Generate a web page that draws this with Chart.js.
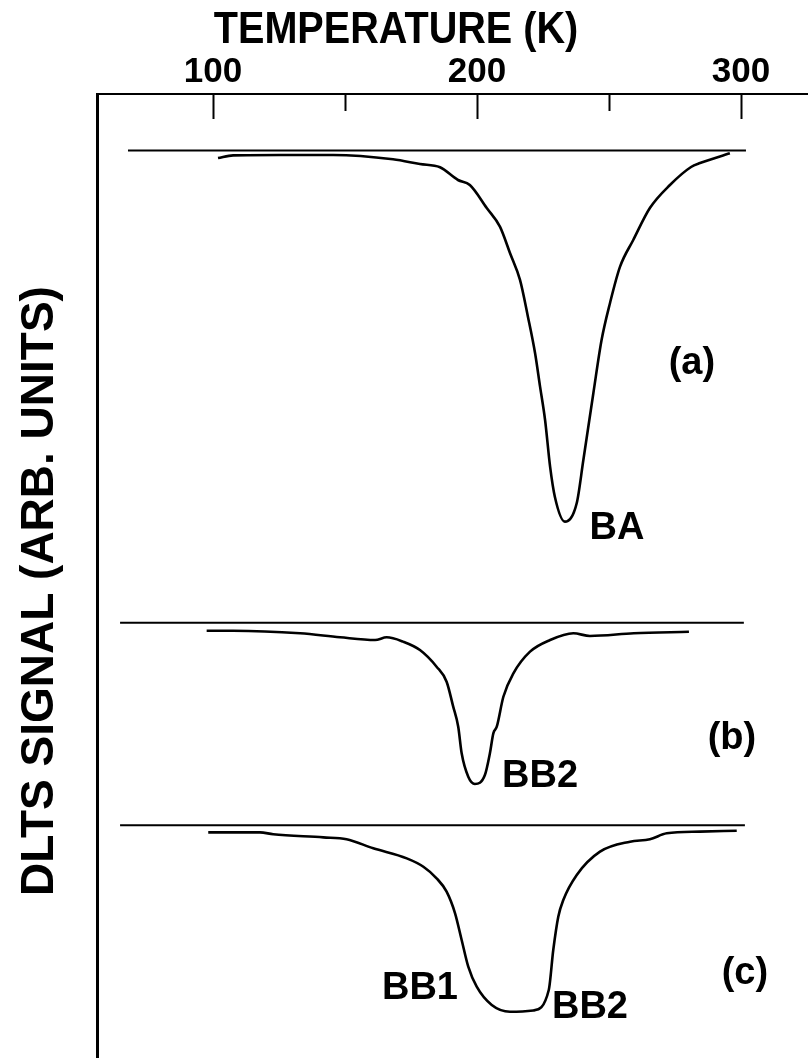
<!DOCTYPE html>
<html>
<head>
<meta charset="utf-8">
<title>DLTS spectra</title>
<script src="https://cdn.jsdelivr.net/npm/chart.js@4.4.1/dist/chart.umd.min.js"></script>
<style>
  html, body { margin: 0; padding: 0; background: #fff; }
</style>
</head>
<body>
<canvas id="dlts" width="808" height="1059"></canvas>
<script>
// temperature (K) and DLTS signal (arb. units, offset per spectrum)
const tempA = [101.9, 107.6, 125.4, 145.5, 168.2, 178.4, 186.0, 192.8, 197.3, 203.7, 208.7, 212.5, 216.3, 219.3, 222.0, 223.9,
  225.8, 227.7, 229.5, 233.3, 237.8, 240.3, 244.1, 247.2, 250.4, 254.2, 259.2, 265.5, 273.1, 281.1, 284.5, 295.8];
const sigA = [93.35, 93.63, 93.67, 93.67, 93.22, 92.73, 92.39, 91.07, 90.55, 88.16, 86.22, 83.49, 80.69, 76.88, 73.10, 69.61,
  66.15, 61.30, 58.18, 55.59, 57.53, 61.99, 68.95, 74.45, 78.30, 82.07, 84.84, 88.16, 90.55, 92.42, 92.83, 93.84];

const tempB = [97.6, 107.6, 133.0, 148.1, 161.4, 165.8, 172.0, 178.4, 184.7, 188.5, 191.0, 192.9, 194.2, 196.7, 199.2,
  203.0, 204.9, 206.2, 207.5, 210.0, 213.8, 220.1, 227.7, 236.5, 242.8, 259.4, 280.3];
const sigB = [44.27, 44.27, 44.0, 43.58, 43.30, 43.58, 43.13, 42.26, 40.53, 38.97, 36.38, 34.30, 31.54, 29.11, 28.35,
  29.28, 31.54, 33.61, 34.30, 37.41, 39.84, 42.09, 43.30, 44.0, 43.72, 44.0, 44.16];

const tempC = [98.2, 117.8, 122.8, 141.8, 150.6, 160.7, 173.4, 179.7, 184.7, 188.5, 191.7, 194.2, 196.7, 199.9, 205.6,
  212.5, 221.3, 227.2, 228.9, 230.8, 232.7, 237.8, 246.6, 258.0, 265.5, 271.9, 284.5, 298.4];
const sigC = [23.33, 23.33, 23.13, 22.81, 22.61, 21.67, 20.63, 19.76, 18.56, 17.17, 14.92, 12.15, 9.38, 7.30, 5.40,
  4.70, 4.83, 6.96, 11.11, 14.57, 16.30, 18.90, 21.32, 22.36, 22.61, 23.23, 23.40, 23.50];

// zero-signal reference lines for (a), (b), (c)
const baseStart = [67.8, 64.8, 64.8];
const baseEnd = [301.9, 301.1, 301.5];
const baseLevel = [94.13, 45.10, 24.06];

const tickValues = [100, 150, 200, 250, 300];
const xTitle = "TEMPERATURE (K)";
const yTitle = "DLTS SIGNAL (ARB. UNITS)";

const peakLabels = ["(a)", "BA", "(b)", "BB2", "BB1", "BB2", "(c)"];
const labelT = [281.4, 253.0, 296.6, 223.9, 178.4, 242.8, 301.5];
const labelV = [72.0, 54.9, 33.1, 29.1, 7.06, 5.19, 8.72];

const FONT = "'Liberation Sans', Arial, Helvetica, sans-serif";

const curve = (T, V) => T.map((t, i) => ({ x: t, y: V[i] }));

const lineStyle = {
  borderColor: "#000",
  borderWidth: 2.6,
  pointRadius: 0,
  fill: false,
  cubicInterpolationMode: "monotone",
};

const datasets = [
  { ...lineStyle, data: curve(tempA, sigA) },
  { ...lineStyle, data: curve(tempB, sigB) },
  { ...lineStyle, data: curve(tempC, sigC) },
];
baseLevel.forEach((lvl, i) => {
  datasets.push({
    ...lineStyle,
    borderWidth: 2,
    data: [{ x: baseStart[i], y: lvl }, { x: baseEnd[i], y: lvl }],
  });
});

// inward tick marks, the axis titles and the peak names
const decorations = {
  id: "decorations",
  afterDraw(chart) {
    const { ctx, chartArea } = chart;
    const x = chart.scales.x;
    const y = chart.scales.y;
    ctx.save();
    ctx.strokeStyle = "#000";
    ctx.lineWidth = 2;
    x.ticks.forEach((t) => {
      const px = Math.round(x.getPixelForValue(t.value)) + 0.5;
      const len = t.value % 100 === 0 ? 25 : 17;
      ctx.beginPath();
      ctx.moveTo(px, chartArea.top);
      ctx.lineTo(px, chartArea.top + len);
      ctx.stroke();
    });

    ctx.fillStyle = "#000";
    ctx.textAlign = "center";
    ctx.textBaseline = "middle";

    // condensed bold title like the original lettering
    ctx.save();
    ctx.translate(396, 31);
    ctx.scale(0.9, 1);
    ctx.font = "bold 44px " + FONT;
    ctx.fillText(xTitle, 0, 0);
    ctx.restore();

    ctx.save();
    ctx.translate(40, 591);
    ctx.rotate(-Math.PI / 2);
    ctx.font = "bold 46px " + FONT;
    ctx.fillText(yTitle, 0, 0);
    ctx.restore();

    ctx.font = "bold 38px " + FONT;
    peakLabels.forEach((txt, i) => {
      ctx.fillText(txt, x.getPixelForValue(labelT[i]), y.getPixelForValue(labelV[i]));
    });
    ctx.restore();
  },
};

new Chart(document.getElementById("dlts"), {
  type: "line",
  data: { datasets },
  plugins: [decorations],
  options: {
    responsive: false,
    animation: false,
    layout: { padding: { top: 0, left: 0, right: 0, bottom: 2 } },
    plugins: {
      legend: { display: false },
      tooltip: { enabled: false },
    },
    scales: {
      x: {
        type: "linear",
        position: "top",
        min: 56.06,
        max: 325.4,
        afterBuildTicks: (s) => {
          s.ticks = tickValues.map((v) => ({ value: v }));
        },
        afterFit: (s) => {
          s.height = 94;
        },
        ticks: {
          callback: (v) => (v % 100 === 0 ? String(v) : ""),
          font: { family: FONT, size: 35, weight: "bold", lineHeight: 1 },
          color: "#000",
          padding: 4,
          maxRotation: 0,
          autoSkip: false,
        },
        grid: { display: false, drawTicks: false },
        border: { display: true, color: "#000", width: 2 },
      },
      y: {
        type: "linear",
        min: 0,
        max: 100,
        afterFit: (s) => {
          s.width = 97;
        },
        ticks: { display: false },
        grid: { display: false, drawTicks: false },
        border: { display: true, color: "#000", width: 3 },
      },
    },
  },
});
</script>
</body>
</html>
